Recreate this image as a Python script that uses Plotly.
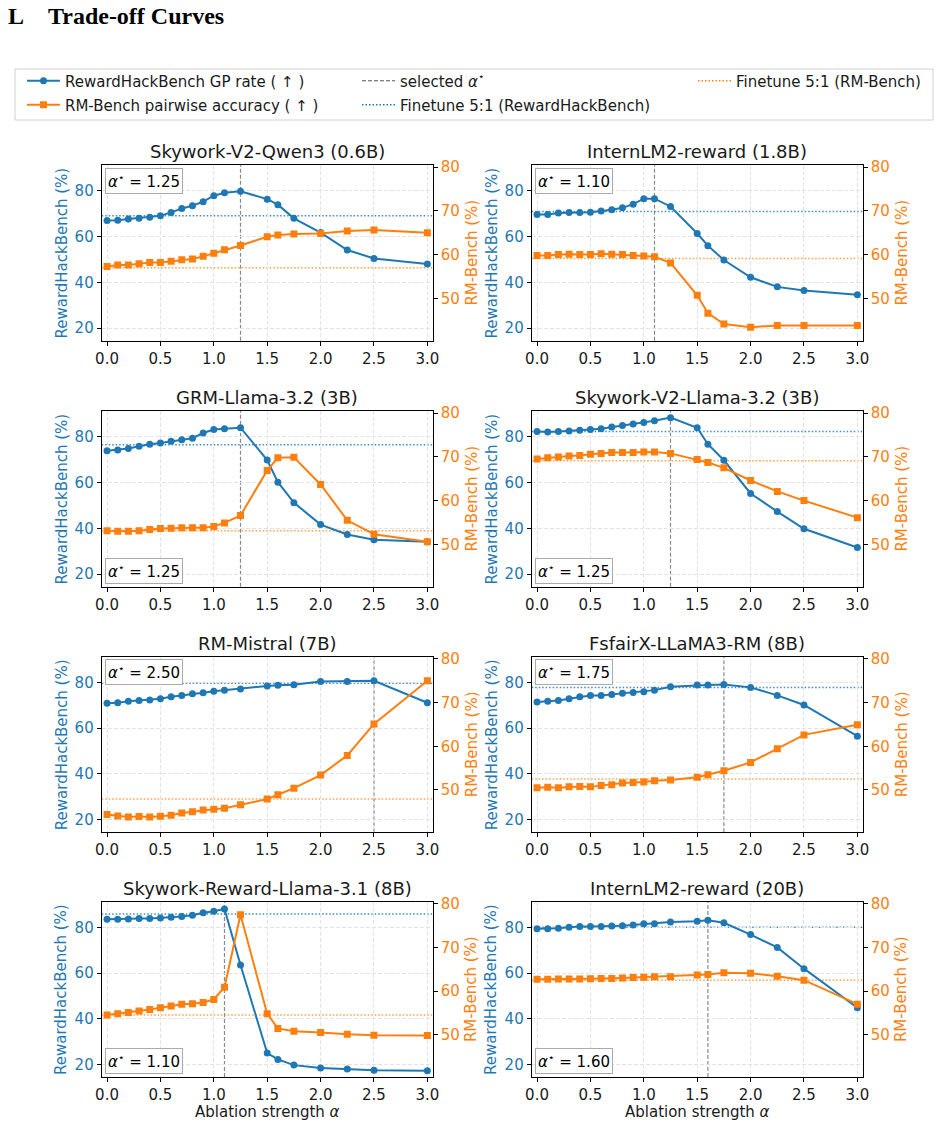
import plotly.graph_objects as go

# ---------------- data ----------------
alpha = [0.0, 0.1, 0.2, 0.3, 0.4, 0.5, 0.6, 0.7, 0.8, 0.9, 1.0, 1.1,
         1.25, 1.5, 1.6, 1.75, 2.0, 2.25, 2.5, 3.0]

model_names = ["Skywork-V2-Qwen3 (0.6B)", "InternLM2-reward (1.8B)",
               "GRM-Llama-3.2 (3B)", "Skywork-V2-Llama-3.2 (3B)",
               "RM-Mistral (7B)", "FsfairX-LLaMA3-RM (8B)",
               "Skywork-Reward-Llama-3.1 (8B)", "InternLM2-reward (20B)"]

selected_alpha = [1.25, 1.10, 1.25, 1.25, 2.50, 1.75, 1.10, 1.60]
selected_alpha_labels = ["1.25", "1.10", "1.25", "1.25", "2.50", "1.75", "1.10", "1.60"]

finetune_rhb = [69.0, 70.9, 76.5, 82.2, 79.6, 77.8, 85.8, 80.0]
finetune_rmbench = [57.0, 59.1, 53.1, 69.1, 47.9, 52.5, 54.5, 62.5]

rhb_skywork_v2_qwen3_06b = [67.0, 67.1, 67.6, 68.0, 68.4, 69.0, 70.5, 72.2, 73.4, 75.2, 77.8, 79.1,
                            79.7, 76.3, 73.9, 67.9, 61.7, 54.1, 50.4, 48.0]
rmb_skywork_v2_qwen3_06b = [57.3, 57.6, 57.6, 57.9, 58.2, 58.2, 58.5, 58.8, 59.0, 59.6, 60.3, 61.1,
                            62.1, 64.1, 64.5, 64.7, 64.8, 65.4, 65.6, 65.0]

rhb_internlm2_18b = [69.6, 69.6, 70.2, 70.5, 70.5, 70.6, 71.1, 71.7, 72.5, 74.1, 76.5, 76.5,
                     73.1, 61.3, 56.0, 49.7, 42.2, 38.0, 36.4, 34.6]
rmb_internlm2_18b = [59.8, 59.8, 60.0, 60.1, 60.0, 60.0, 60.2, 60.1, 60.0, 59.8, 59.7, 59.5,
                     58.1, 50.7, 46.6, 44.1, 43.4, 43.8, 43.8, 43.8]

rhb_grm_llama32_3b = [73.8, 74.2, 74.8, 75.8, 76.7, 77.2, 78.0, 78.7, 79.3, 81.6, 83.1, 83.5,
                      83.9, 69.8, 60.1, 51.2, 41.6, 37.3, 35.0, 34.1]
rmb_grm_llama32_3b = [53.1, 53.0, 53.0, 53.1, 53.4, 53.6, 53.7, 53.8, 53.8, 53.8, 54.1, 54.9,
                      56.6, 66.9, 69.8, 69.9, 63.7, 55.5, 52.3, 50.6]

rhb_skywork_v2_llama32_3b = [82.2, 82.0, 82.3, 82.5, 82.8, 83.1, 83.5, 84.2, 84.9, 85.5, 86.2, 86.9,
                             88.3, 83.9, 76.7, 69.7, 55.2, 47.3, 39.8, 31.6]
rmb_skywork_v2_llama32_3b = [69.5, 69.8, 70.0, 70.2, 70.3, 70.6, 70.8, 71.0, 71.0, 71.0, 71.1, 71.1,
                             70.8, 69.4, 68.7, 67.5, 64.6, 62.1, 60.0, 56.1]

rhb_rm_mistral_7b = [70.9, 71.1, 71.7, 72.1, 72.3, 72.8, 73.7, 74.2, 75.0, 75.5, 76.1, 76.6,
                     77.1, 78.4, 78.7, 79.0, 80.4, 80.4, 80.7, 71.1]
rmb_rm_mistral_7b = [44.4, 44.05, 43.8, 43.9, 43.8, 44.0, 44.2, 44.7, 45.0, 45.4, 45.6, 45.8,
                     46.6, 47.9, 48.9, 50.4, 53.4, 57.9, 65.1, 75.0]

rhb_fsfairx_8b = [71.4, 71.7, 72.1, 72.8, 73.7, 74.3, 74.3, 74.7, 75.2, 75.6, 75.9, 76.6,
                  78.1, 78.8, 78.8, 79.1, 77.8, 74.3, 70.1, 56.5]
rmb_fsfairx_8b = [50.5, 50.6, 50.5, 50.7, 50.8, 50.7, 51.0, 51.2, 51.6, 51.7, 51.8, 52.1,
                  52.3, 52.9, 53.5, 54.4, 56.3, 59.4, 62.6, 64.9]

rhb_skywork_llama31_8b = [83.5, 83.5, 83.65, 83.8, 83.9, 84.1, 84.4, 84.7, 85.3, 86.4, 87.0, 88.0,
                          63.5, 25.0, 22.2, 19.7, 18.4, 18.0, 17.4, 17.2]
rmb_skywork_llama31_8b = [54.5, 54.8, 55.1, 55.45, 55.8, 56.2, 56.6, 57.0, 57.1, 57.4, 58.1, 60.9,
                          77.5, 54.8, 51.45, 50.8, 50.5, 50.1, 49.9, 49.8]

rhb_internlm2_20b = [79.4, 79.4, 79.6, 80.0, 80.4, 80.3, 80.3, 80.6, 80.7, 81.0, 81.5, 81.6,
                     82.3, 82.6, 83.1, 82.0, 76.8, 71.2, 61.9, 44.8]
rmb_internlm2_20b = [62.7, 62.7, 62.8, 62.8, 62.8, 62.85, 62.9, 62.9, 63.0, 63.1, 63.2, 63.3,
                     63.3, 63.7, 63.8, 64.2, 64.1, 63.4, 62.5, 57.0]

rhb_series = [rhb_skywork_v2_qwen3_06b, rhb_internlm2_18b, rhb_grm_llama32_3b,
              rhb_skywork_v2_llama32_3b, rhb_rm_mistral_7b, rhb_fsfairx_8b,
              rhb_skywork_llama31_8b, rhb_internlm2_20b]
rmb_series = [rmb_skywork_v2_qwen3_06b, rmb_internlm2_18b, rmb_grm_llama32_3b,
              rmb_skywork_v2_llama32_3b, rmb_rm_mistral_7b, rmb_fsfairx_8b,
              rmb_skywork_llama31_8b, rmb_internlm2_20b]

x_ticks = [0.0, 0.5, 1.0, 1.5, 2.0, 2.5, 3.0]
x_tick_labels = ["0.0", "0.5", "1.0", "1.5", "2.0", "2.5", "3.0"]

# ---------------- style / layout ----------------
W, H = 940, 1127
BLUE = "#1f77b4"
ORANGE = "#ff7f0e"
FONT = "DejaVu Sans"
box_on_top = [True, True, False, False, True, True, False, False]

col_px = [(101.7, 432.7), (531.7, 862.7)]
row_px = [(165.0, 340.7), (411.0, 586.7), (656.7, 832.3), (901.7, 1077.0)]


def px_x(p):
    return p / W


def px_y(p):
    return 1 - p / H


def sfx(n):
    return "" if n == 1 else str(n)


fig = go.Figure()
layout = dict(
    width=W, height=H,
    margin=dict(l=0, r=0, t=0, b=0),
    paper_bgcolor="white", plot_bgcolor="white",
    font=dict(family=FONT, size=15, color="black"),
    showlegend=True,
)
annotations = []
shapes = []

for i in range(8):
    n = i + 1
    n2 = i + 9
    r, c = divmod(i, 2)
    x0p, x1p = col_px[c]
    y0p, y1p = row_px[r]
    xd = [px_x(x0p), px_x(x1p)]
    yd = [px_y(y1p), px_y(y0p)]
    xa, ya, ya2 = "x" + sfx(n), "y" + sfx(n), "y" + sfx(n2)

    layout["xaxis" + sfx(n)] = dict(
        domain=xd, anchor=ya, range=[-0.05, 3.05],
        tickvals=x_ticks, ticktext=x_tick_labels,
        ticks="outside", ticklen=4, tickwidth=1, tickcolor="black",
        tickfont=dict(size=15, color="#1a1a1a"),
        showline=True, linecolor="black", linewidth=1, mirror=True,
        showgrid=True, gridcolor="#e3e3e3", gridwidth=1, griddash="4px,2px",
        zeroline=False, automargin=False,
    )
    layout["yaxis" + sfx(n)] = dict(
        domain=yd, anchor=xa, range=[14.5, 91.2],
        tickvals=[20, 40, 60, 80],
        ticks="outside", ticklen=4, tickwidth=1, tickcolor="black",
        tickfont=dict(size=15, color=BLUE),
        showline=True, linecolor="black", linewidth=1, mirror=True,
        showgrid=True, gridcolor="#e3e3e3", gridwidth=1, griddash="4px,2px",
        zeroline=False, automargin=False,
    )
    layout["yaxis" + sfx(n2)] = dict(
        overlaying=ya, anchor=xa, side="right", range=[40.3, 80.5],
        tickvals=[50, 60, 70, 80],
        ticks="outside", ticklen=4, tickwidth=1, tickcolor="black",
        tickfont=dict(size=15, color=ORANGE),
        showline=True, linecolor="black", linewidth=1,
        showgrid=False, zeroline=False, automargin=False,
    )

    first = (i == 0)
    fig.add_trace(go.Scatter(
        x=alpha, y=rhb_series[i], xaxis=xa, yaxis=ya, mode="lines+markers",
        line=dict(color=BLUE, width=2), marker=dict(symbol="circle", size=7, color=BLUE),
        name="RewardHackBench GP rate ( ↑ )", showlegend=first, legend="legend",
    ))
    fig.add_trace(go.Scatter(
        x=alpha, y=rmb_series[i], xaxis=xa, yaxis=ya2, mode="lines+markers",
        line=dict(color=ORANGE, width=2), marker=dict(symbol="square", size=7, color=ORANGE),
        name="RM-Bench pairwise accuracy ( ↑ )", showlegend=first, legend="legend2",
    ))

    # selected alpha (vertical dashed)
    shapes.append(dict(type="line", xref=xa, x0=selected_alpha[i], x1=selected_alpha[i],
                       yref=ya + " domain", y0=0, y1=1, layer="below",
                       line=dict(color="#8a8a8a", width=1.2, dash="4px,2px")))
    # finetune reference lines
    shapes.append(dict(type="line", xref=xa + " domain", x0=0, x1=1,
                       yref=ya, y0=finetune_rhb[i], y1=finetune_rhb[i], layer="below",
                       line=dict(color="rgba(31,119,180,0.85)", width=1.5, dash="1.5px,2px")))
    shapes.append(dict(type="line", xref=xa + " domain", x0=0, x1=1,
                       yref=ya2, y0=finetune_rmbench[i], y1=finetune_rmbench[i], layer="below",
                       line=dict(color="rgba(255,127,14,0.75)", width=1.5, dash="1.5px,2px")))

    # subplot title
    annotations.append(dict(text=model_names[i], xref=xa + " domain", yref=ya + " domain",
                            x=0.5, y=1, xanchor="center", yanchor="bottom", yshift=1,
                            showarrow=False, font=dict(size=18, color="#1a1a1a")))
    # axis titles
    annotations.append(dict(text="RewardHackBench (%)", xref="paper", yref=ya + " domain",
                            x=px_x(x0p - 40), y=0.5, xanchor="center", yanchor="middle",
                            textangle=-90, showarrow=False, font=dict(size=15, color=BLUE)))
    annotations.append(dict(text="RM-Bench (%)", xref="paper", yref=ya + " domain",
                            x=px_x(x1p + 39), y=0.5, xanchor="center", yanchor="middle",
                            textangle=-90, showarrow=False, font=dict(size=15, color=ORANGE)))
    if r == 3:
        annotations.append(dict(text="Ablation strength <i>α</i>", xref=xa + " domain",
                                yref="paper", x=0.5, y=px_y(1112), xanchor="center",
                                yanchor="middle", showarrow=False,
                                font=dict(size=15, color="#1a1a1a")))
    # alpha* box
    annotations.append(dict(
        text="<i>α</i><sup>⋆</sup> = " + selected_alpha_labels[i],
        xref=xa + " domain", yref=ya + " domain",
        x=0.011, y=0.985 if box_on_top[i] else 0.015,
        xanchor="left", yanchor="top" if box_on_top[i] else "bottom",
        showarrow=False, bgcolor="white", bordercolor="#aaaaaa", borderwidth=1, borderpad=2,
        font=dict(size=15, color="black")))

# legend-only entries
fig.add_trace(go.Scatter(x=[None], y=[None], mode="lines", name="selected <i>α</i><sup>⋆</sup>",
                         line=dict(color="#555555", width=1.2, dash="4px,2px"), legend="legend3"))
fig.add_trace(go.Scatter(x=[None], y=[None], mode="lines", name="Finetune 5:1 (RewardHackBench)",
                         line=dict(color=BLUE, width=1.5, dash="1.5px,2px"), legend="legend4"))
fig.add_trace(go.Scatter(x=[None], y=[None], mode="lines", name="Finetune 5:1 (RM-Bench)",
                         line=dict(color=ORANGE, width=1.5, dash="1.5px,2px"), legend="legend5"))

leg_common = dict(xanchor="left", yanchor="middle", bgcolor="rgba(0,0,0,0)", borderwidth=0,
                  font=dict(size=15, color="#1a1a1a", family=FONT), itemwidth=33,
                  orientation="v")
layout["legend"] = dict(x=px_x(22), y=px_y(81), **leg_common)
layout["legend2"] = dict(x=px_x(22), y=px_y(105), **leg_common)
layout["legend3"] = dict(x=px_x(357), y=px_y(81), **leg_common)
layout["legend4"] = dict(x=px_x(357), y=px_y(105), **leg_common)
layout["legend5"] = dict(x=px_x(693), y=px_y(81), **leg_common)

# legend frame
shapes.append(dict(type="rect", xref="paper", yref="paper",
                   x0=px_x(15), x1=px_x(933), y0=px_y(120), y1=px_y(69),
                   line=dict(color="#d0d0d0", width=1), fillcolor="rgba(0,0,0,0)", layer="above"))

# page heading
annotations.append(dict(text="L", xref="paper", yref="paper", x=px_x(6), y=px_y(16),
                        xanchor="left", yanchor="middle", showarrow=False,
                        font=dict(family="Liberation Serif", size=24, color="black", weight="bold")))
annotations.append(dict(text="Trade-off Curves", xref="paper", yref="paper", x=px_x(46), y=px_y(16),
                        xanchor="left", yanchor="middle", showarrow=False,
                        font=dict(family="Liberation Serif", size=24, color="black", weight="bold")))

layout["annotations"] = annotations
layout["shapes"] = shapes
fig.update_layout(**layout)

fig.write_html("out.html")
